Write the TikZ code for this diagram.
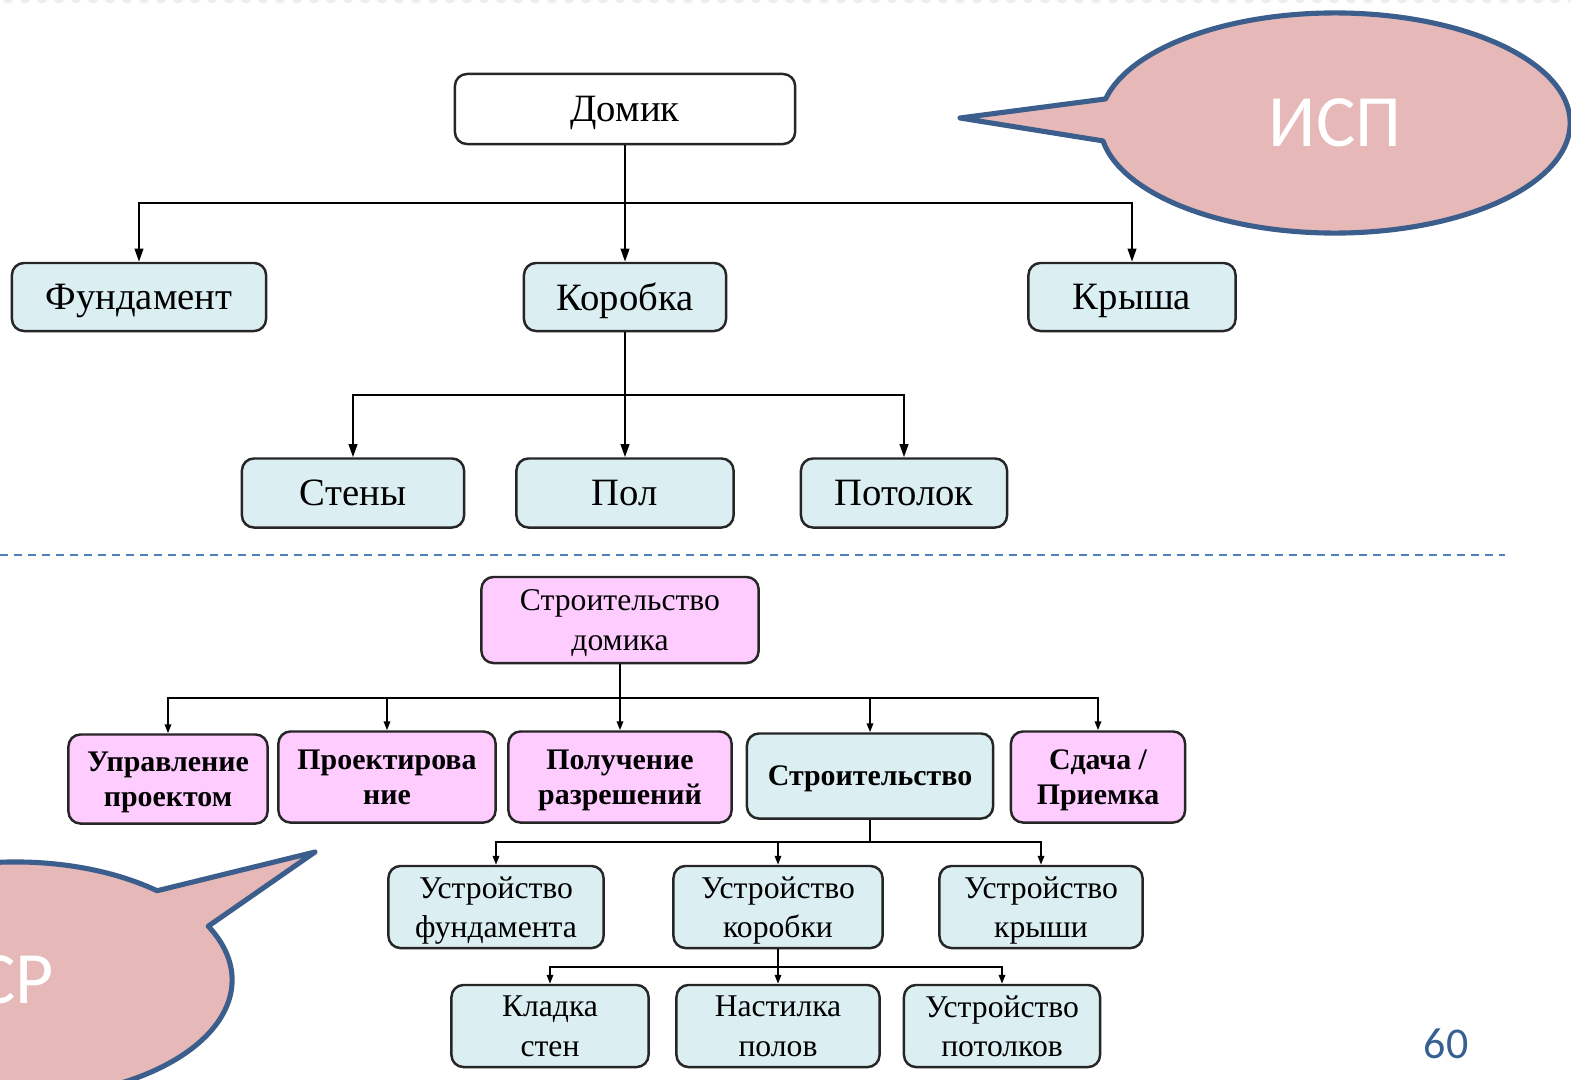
\documentclass[tikz,border=0pt]{standalone}
\usepackage{fontspec}
\setmainfont{Liberation Serif}
\newfontfamily\calibfont{Carlito}
\usepackage{tikz}
\usetikzlibrary{arrows.meta, shapes.callouts, positioning}

\definecolor{boxblue}{RGB}{219,238,241}
\definecolor{boxpink}{RGB}{255,204,255}
\definecolor{bubblefill}{RGB}{230,184,183}
\definecolor{bubbleline}{RGB}{59,94,140}
\definecolor{splitline}{RGB}{79,129,189}
\definecolor{pagenum}{RGB}{55,96,146}

\begin{document}
\begin{tikzpicture}[
    x=0.01cm, y=-0.01cm,
    >={Triangle[length=0.13cm, width=0.085cm]},
    part/.style={rectangle, draw=black!85, line width=0.7pt, rounded corners=0.12cm,
                 fill=boxblue, align=center, inner sep=0pt, text depth=0pt,
                 font=\fontsize{11}{13}\selectfont},
    work/.style={part, font=\fontsize{9}{11.2}\selectfont},
    workb/.style={work, font=\fontsize{8.5}{10}\selectfont\bfseries},
    link/.style={->, line width=0.6pt},
    sublink/.style={-{Triangle[length=0.09cm, width=0.065cm]}, line width=0.5pt},
    bubble/.style={ellipse callout, draw=bubbleline, line width=1.45pt, line join=round,
                   fill=bubblefill, inner sep=0pt, callout pointer arc=22,
                   text=white, font=\calibfont\fontsize{21}{24}\selectfont}
]
\clip (0,0) rectangle (1571,1079);

% faint border on top
\foreach \i in {0,...,93} {
    \fill[black!7] (\i*17+8,-2) circle (0.055cm);
}

% product tree
\node[part, fill=white, minimum width=3.4cm, minimum height=0.7cm] (domik) at (625,109) {Домик};
\node[part, minimum width=2.54cm, minimum height=0.68cm] (fundament) at (139,297) {Фундамент};
\node[part, minimum width=2.02cm, minimum height=0.68cm] (korobka) at (625,297) {Коробка};
\node[part, minimum width=2.07cm, minimum height=0.68cm] (krysha) at (1132,297) {Крыша};
\node[part, minimum width=2.22cm, minimum height=0.69cm] (steny) at (353,493) {Стены};
\node[part, minimum width=2.17cm, minimum height=0.69cm] (pol) at (625,493) {Пол};
\node[part, minimum width=2.06cm, minimum height=0.69cm] (potolok) at (904,493) {Потолок};

\coordinate (j1) at (625,203);
\coordinate (j2) at (625,395);
\foreach \x in {fundament,korobka,krysha} {
    \draw[link] (domik.south) -- (j1) -| (\x.north);
}
\foreach \x in {steny,pol,potolok} {
    \draw[link] (korobka.south) -- (j2) -| (\x.north);
}

\draw[splitline, line width=0.65pt, dash pattern=on 0.08cm off 0.06cm] (0,555) -- (1505,555);

% work tree
\node[work, fill=boxpink, minimum width=2.77cm, minimum height=0.86cm] (stroitdom) at (620,620) {Строительство\\домика};
\node[workb, fill=boxpink, minimum width=1.99cm, minimum height=0.89cm] (upravl) at (168,779) {Управление\\проектом};
\node[workb, fill=boxpink, minimum width=2.17cm, minimum height=0.91cm] (proekt) at (387,777) {Проектирова\\ние};
\node[workb, fill=boxpink, minimum width=2.23cm, minimum height=0.91cm] (poluch) at (620,777) {Получение\\разрешений};
\node[workb, minimum width=2.46cm, minimum height=0.85cm] (stroit) at (870,776) {Строительство};
\node[workb, fill=boxpink, minimum width=1.74cm, minimum height=0.91cm] (sdacha) at (1098,777) {Сдача /\\Приемка};

\node[work, minimum width=2.15cm, minimum height=0.82cm] (ustfund) at (496,907) {Устройство\\фундамента};
\node[work, minimum width=2.09cm, minimum height=0.82cm] (ustkor) at (778,907) {Устройство\\коробки};
\node[work, minimum width=2.03cm, minimum height=0.82cm] (ustkrysh) at (1041,907) {Устройство\\крыши};

\node[work, minimum width=1.97cm, minimum height=0.82cm] (kladka) at (550,1026) {Кладка\\стен};
\node[work, minimum width=2.03cm, minimum height=0.82cm] (nastil) at (778,1026) {Настилка\\полов};
\node[work, minimum width=1.96cm, minimum height=0.82cm] (ustpot) at (1002,1026) {Устройство\\потолков};

\coordinate (j3) at (620,698);
\coordinate (j4) at (870,842);
\coordinate (j5) at (778,967);
\foreach \x in {upravl,proekt,poluch,stroit,sdacha} {
    \draw[sublink] (stroitdom.south) -- (j3) -| (\x.north);
}
\foreach \x in {ustfund,ustkor,ustkrysh} {
    \draw[sublink] (stroit.south) -- (j4) -| (\x.north);
}
\foreach \x in {kladka,nastil,ustpot} {
    \draw[sublink] (ustkor.south) -- (j5) -| (\x.north);
}

% callouts
\node[bubble, minimum width=4.7cm, minimum height=2.2cm,
      callout absolute pointer={(960,118)}] (isp) at (1335,123) {ИСП};
\node[bubble, minimum width=4.34cm, minimum height=2.36cm,
      callout absolute pointer={(315,852)}] (sr) at (15,980) {СР};

\node[text=pagenum, font=\calibfont\fontsize{12.5}{14}\selectfont] (page) at (1446,1044) {60};
\end{tikzpicture}
\end{document}
